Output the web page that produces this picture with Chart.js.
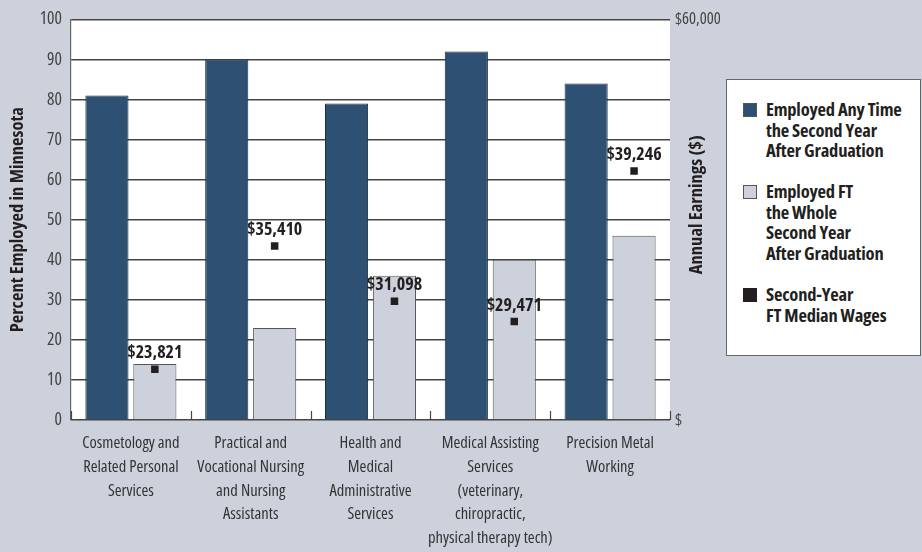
<!DOCTYPE html>
<html>
<head>
<meta charset="utf-8">
<script src="https://cdn.jsdelivr.net/npm/chart.js@4.4.1/dist/chart.umd.min.js"></script>
<style>
  html, body { margin: 0; padding: 0; background: #CDD1DC; }
  #wrap { position: relative; width: 922px; height: 552px; overflow: hidden; }
  canvas { position: absolute; left: 0; top: 0; }
  #legend {
    position: absolute; left: 726px; top: 79px; width: 193px; height: 275px;
    background: #fff; border: 1px solid #666;
    font-family: "Open Sans", sans-serif; font-stretch: 75%;
    font-weight: bold; font-size: 18.5px; line-height: 20.5px; color: #231F20;
  }
  .item { position: absolute; left: 16px; }
  .sw { position: absolute; left: 0; top: 4px; width: 14px; height: 14px; box-sizing: border-box; border: 1px solid #555; }
  .tx { position: absolute; left: 23px; top: 0; white-space: nowrap; letter-spacing: -0.2px; }
</style>
</head>
<body>
<div id="wrap">
  <canvas id="c" width="922" height="552"></canvas>
  <div id="legend"></div>
</div>
<script>
// ---- data ----
const categories = [
  ["Cosmetology and", "Related Personal", "Services"],
  ["Practical and", "Vocational Nursing", "and Nursing", "Assistants"],
  ["Health and", "Medical", "Administrative", "Services"],
  ["Medical Assisting", "Services", "(veterinary,", "chiropractic,", "physical therapy tech)"],
  ["Precision Metal", "Working"]
];
const employedAnyTime = [81, 90, 79, 92, 84];
const employedFTWhole = [14, 23, 36, 40, 46];
// median wages as labelled in the chart
const medianWageLabels = [23821, 35410, 31098, 29471, 39246];
// wage marker levels as drawn against the earnings axis ($0 - $60,000)
const medianWageMarkers = [7600, 26050, 17800, 14750, 37300];
const pctTicks = [0, 10, 20, 30, 40, 50, 60, 70, 80, 90, 100];
const earningsTicks = [0, 60000];
const seriesNames = [
  ["Employed Any Time", "the Second Year", "After Graduation"],
  ["Employed FT", "the Whole", "Second Year", "After Graduation"],
  ["Second-Year", "FT Median Wages"]
];
const leftTitle = 'Percent Employed in Minnesota';
const rightTitle = 'Annual Earnings ($)';

const FAMILY = '"Open Sans", sans-serif';
const COND = 'condensed';
const COND_BOLD = 'condensed bold';
const DARK = '#2E5173';
const LIGHT = '#CDD1DC';
const MARK = '#231F20';

// legend (HTML, real text)
const legendColors = [DARK, LIGHT, MARK];
const legendTops = [19, 101, 204];
const lg = document.getElementById('legend');
seriesNames.forEach((lines, i) => {
  const it = document.createElement('div');
  it.className = 'item';
  it.style.top = legendTops[i] + 'px';
  const sw = document.createElement('div');
  sw.className = 'sw';
  sw.style.background = legendColors[i];
  if (i === 2) sw.style.borderColor = MARK;
  const tx = document.createElement('div');
  tx.className = 'tx';
  tx.innerHTML = lines.join('<br>');
  it.appendChild(sw); it.appendChild(tx);
  lg.appendChild(it);
});

const bgPlugin = {
  id: 'bg',
  beforeDraw(chart) {
    const { ctx, chartArea: a } = chart;
    ctx.save();
    ctx.fillStyle = LIGHT;
    ctx.fillRect(0, 0, chart.width, chart.height);
    ctx.fillStyle = '#fff';
    ctx.fillRect(a.left, a.top, a.right - a.left, a.bottom - a.top);
    ctx.restore();
  }
};

const alignPlugin = {
  id: 'align',
  afterDatasetsUpdate(chart) {
    const bars = chart.getDatasetMeta(1).data;
    const pts = chart.getDatasetMeta(2).data;
    pts.forEach((p, i) => { if (bars[i]) p.x = bars[i].x; });
  },
  afterDatasetsDraw(chart) {
    const { ctx, chartArea: a } = chart;
    const xs = chart.scales.x;
    const y2 = chart.scales.y2;
    ctx.save();
    // category boundary ticks along the base
    ctx.strokeStyle = '#444';
    ctx.lineWidth = 1.2;
    const half = (xs.getPixelForValue(1) - xs.getPixelForValue(0)) / 2;
    for (let i = 0; i <= categories.length; i++) {
      const x = Math.round(xs.getPixelForValue(i) - half) + 0.5;
      ctx.beginPath();
      ctx.moveTo(x, a.bottom);
      ctx.lineTo(x, a.bottom - 9);
      ctx.stroke();
    }
    // wage labels
    ctx.fillStyle = MARK;
    ctx.font = COND_BOLD + ' 18px ' + FAMILY;
    ctx.textAlign = 'center';
    ctx.textBaseline = 'middle';
    chart.getDatasetMeta(2).data.forEach((p, i) => {
      ctx.fillText('$' + medianWageLabels[i].toLocaleString('en-US'), p.x, p.y - 16);
    });
    // right axis title, reading bottom-to-top
    ctx.font = COND_BOLD + ' 18.5px ' + FAMILY;
    ctx.translate(y2.right - 33, (a.top + a.bottom) / 2 - 15);
    ctx.rotate(-Math.PI / 2);
    ctx.fillText(rightTitle, 0, 0);
    ctx.restore();
  }
};

new Chart(document.getElementById('c'), {
  data: {
    labels: categories,
    datasets: [
      { type: 'bar', label: seriesNames[0].join(' '), data: employedAnyTime, backgroundColor: DARK,
        borderColor: '#1E2E40', borderWidth: 1, categoryPercentage: 0.8, barPercentage: 0.9, order: 1, yAxisID: 'y' },
      { type: 'bar', label: seriesNames[1].join(' '), data: employedFTWhole, backgroundColor: LIGHT,
        borderColor: '#555', borderWidth: 1, categoryPercentage: 0.8, barPercentage: 0.9, order: 1, yAxisID: 'y' },
      { type: 'line', label: seriesNames[2].join(' '), data: medianWageMarkers, showLine: false,
        pointStyle: 'rect', pointRadius: 5.3, pointHoverRadius: 5.3, pointBackgroundColor: MARK,
        pointBorderWidth: 0, order: 0, yAxisID: 'y2' }
    ]
  },
  options: {
    responsive: false,
    animation: false,
    layout: { padding: { top: 18, right: 192, bottom: 0, left: 0 } },
    plugins: { legend: { display: false }, tooltip: { enabled: false } },
    scales: {
      x: {
        offset: true,
        grid: { display: false },
        border: { display: false },
        ticks: { color: '#333', font: { family: FAMILY, size: 16.5, weight: COND, lineHeight: 1.45 }, padding: 3, maxRotation: 0, autoSkip: false },
        afterFit(s) { s.height = 132; }
      },
      y: {
        position: 'left',
        min: 0, max: 100,
        afterBuildTicks(s) { s.ticks = pctTicks.map(v => ({ value: v })); },
        grid: { color: '#444', lineWidth: 1.5, drawTicks: false },
        border: { display: true, color: '#666', width: 1.2 },
        ticks: { color: '#444', font: { family: FAMILY, size: 17.5, weight: COND }, padding: 9 },
        title: { display: true, text: leftTitle, color: MARK,
                 font: { family: FAMILY, size: 18.5, weight: COND_BOLD }, padding: { top: 7, bottom: 0 } },
        afterFit(s) { s.width = 71; }
      },
      y2: {
        position: 'right',
        min: 0, max: 60000,
        afterBuildTicks(s) { s.ticks = earningsTicks.map(v => ({ value: v })); },
        grid: { display: false, drawTicks: false },
        border: { display: false },
        ticks: { color: '#444', font: { family: FAMILY, size: 16.5, weight: COND }, padding: 5,
                 callback: v => v === 0 ? '$' : '$' + v.toLocaleString('en-US') },
        afterFit(s) { s.width = 60; }
      }
    }
  },
  plugins: [bgPlugin, alignPlugin]
});
</script>
</body>
</html>
